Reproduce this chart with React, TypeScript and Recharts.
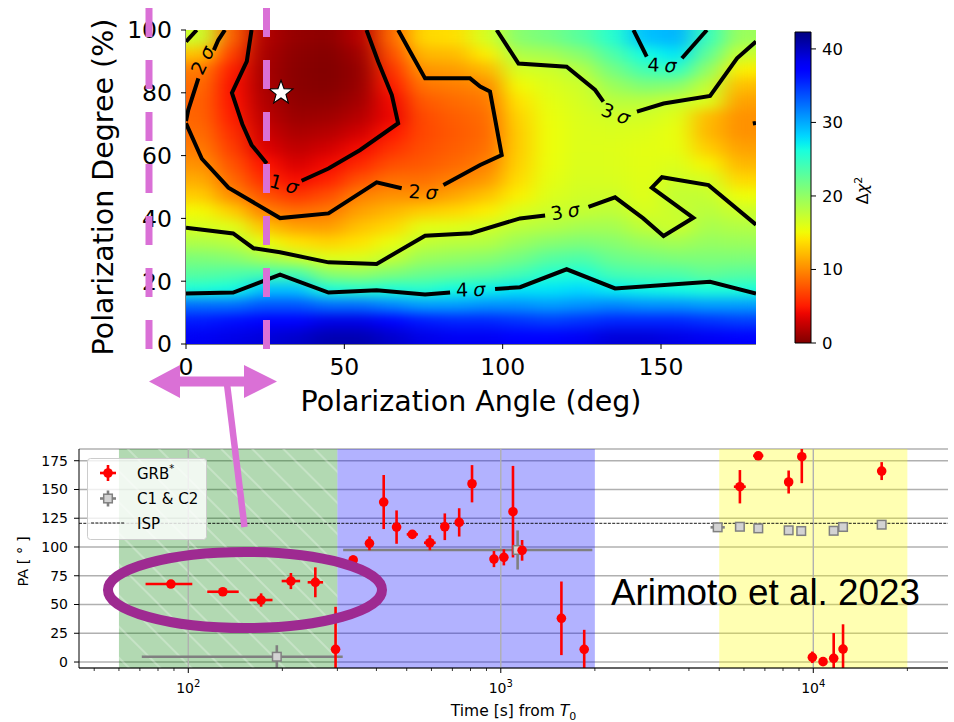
import React from 'react';
import {
  ComposedChart,
  Scatter,
  XAxis,
  YAxis,
  ReferenceArea,
  ReferenceLine,
  ErrorBar,
  CartesianGrid,
  Legend,
} from 'recharts';

const FONT = "'DejaVu Sans', 'Liberation Sans', sans-serif";
const ORCHID = '#da70d6';
const PURPLE = '#9e2a91';

/* ------------------------------------------------------------------ */
/* Δχ² map over polarization angle (deg) × polarization degree (%)     */
/* ------------------------------------------------------------------ */
const angleCenters = [5, 15, 25, 35, 45, 55, 65, 75, 85, 95, 105, 115, 125, 135, 145, 155, 165, 175];
const degreeCenters = [2.5, 7.5, 12.5, 17.5, 22.5, 27.5, 32.5, 37.5, 42.5, 47.5, 52.5, 57.5, 62.5, 67.5, 72.5, 77.5, 82.5, 87.5, 92.5, 97.5];

// one row per polarization degree (bottom → top), one value per angle column
const chi2Rows: number[][] = [
  [38, 38.5, 39, 39.5, 40.5, 40.5, 39.5, 38.5, 38, 38, 37.5, 37.5, 38, 39, 39, 38.5, 38, 37.5],
  [36, 36.5, 37, 37.5, 38.5, 38.5, 37, 36, 35.5, 35.5, 35, 34.5, 35, 35.5, 35.5, 35.5, 35, 34.5],
  [32.5, 32.5, 33.5, 33.5, 32.5, 32.5, 31.5, 30.5, 30.5, 31, 31, 30.5, 31, 31.5, 31, 31, 30.5, 30.5],
  [26, 26.5, 29, 29, 26, 25.5, 26, 25.5, 26.5, 27, 27.5, 27.5, 28, 27.2, 26.8, 26.5, 26, 26],
  [23, 23.5, 24, 24, 20.5, 20, 21, 22, 22.5, 23, 24, 25.5, 26, 24, 23.5, 23.5, 22.5, 23],
  [21, 20.5, 19, 17.5, 16, 16.2, 17.5, 19.5, 20, 20.5, 21.5, 23, 23.5, 22, 21.5, 21, 21, 21],
  [18.5, 18, 15.5, 14, 13.3, 14, 15.5, 17.5, 18, 18.2, 19.5, 20.5, 21, 20.5, 19.5, 19, 19.8, 19.5],
  [16.5, 16, 12.5, 11, 10.8, 12.5, 13.5, 15.8, 16, 16.7, 17.8, 18.3, 19, 19, 17.6, 16.9, 18.8, 18.3],
  [15, 13, 9.6, 8.7, 9.2, 11, 12, 13, 13.5, 14.5, 16.2, 16.9, 17.4, 17.8, 16.4, 17.2, 18, 17],
  [13, 10, 7.5, 6.2, 7.3, 9.6, 10.3, 10.2, 11.3, 12.5, 14.6, 16.2, 16.8, 16.9, 16, 17.5, 17.4, 15.2],
  [11.5, 8.5, 5.8, 4.3, 5.3, 7.5, 8.8, 8.8, 9.6, 10.6, 13.7, 15.7, 16.5, 16.4, 15.9, 16.9, 16.5, 13.5],
  [10.3, 7.5, 4.6, 3.2, 4.2, 5.6, 7.3, 7.8, 8.5, 9.5, 13.2, 15.4, 16.3, 16.2, 15.8, 16.2, 14.8, 12],
  [9.3, 6.5, 3.5, 2.3, 3.0, 4.3, 6, 7.3, 8, 8.8, 13, 15.3, 16.2, 16.1, 15.8, 15.6, 13, 11],
  [8.7, 5.8, 2.8, 1.6, 2.0, 3.0, 4.8, 7, 7.8, 8.5, 13, 15.3, 16.2, 16.3, 16.1, 15.5, 12, 10.3],
  [8.3, 5.0, 2.2, 1.0, 1.2, 2.0, 4.0, 7.1, 8, 8.7, 13.3, 15.4, 16.3, 16.8, 16.7, 16, 12.2, 10.3],
  [8.2, 4.6, 1.8, 0.6, 0.6, 1.3, 4.2, 7.8, 8.6, 9.2, 14, 15.7, 16.6, 18, 18, 17.2, 16.2, 11],
  [8.6, 4.5, 1.5, 0.4, 0.2, 0.9, 5, 9, 9.4, 10, 15, 16.2, 17, 19.5, 21, 20.5, 17.5, 12.3],
  [9.3, 5, 1.4, 0.4, 0.1, 0.8, 6, 10.5, 10.8, 12, 16.5, 16.9, 18.3, 21.5, 24, 25, 20, 14.5],
  [12.5, 6.5, 1.5, 0.5, 0.2, 1.2, 7.3, 12, 12.2, 14.5, 18.5, 19, 20.5, 23.5, 26.5, 27.5, 22.5, 17.2],
  [17, 8, 1.8, 0.8, 0.5, 2.0, 8.5, 13.5, 13.8, 16.5, 20.5, 21.5, 23, 25.5, 29, 29.5, 24.5, 19.5],
];

const CB_MAX = 42.3;
const cbTicks = [0, 10, 20, 30, 40];
const angleTicks = [0, 50, 100, 150];
const degreeTicks = [0, 20, 40, 60, 80, 100];

// confidence contours as [angle, degree] vertices, broken where the level tag sits
const contour1a = [[20.7, 100], [19.2, 90], [14.5, 80], [17.8, 70], [20.7, 63.4], [25.5, 57.5]];
const contour1b = [[36.5, 52], [45, 55.9], [55, 61.8], [67, 70.3], [65, 79.3], [60.7, 89.9], [57, 100]];
const contour2a = [[12.3, 100], [10.2, 96.8], [8.8, 93.6]];
const contour2b = [[3.9, 84.6], [0.7, 74.5], [0, 71]];
const contour2c = [[0, 70.3], [5, 59], [13.4, 49.8], [29.7, 40.1], [45, 41.6], [60.2, 51.5], [68.1, 49.6]];
const contour2d = [[81.3, 50.6], [92.9, 57], [99.7, 60.2], [96, 80.4], [92.9, 82], [89.7, 84.6], [75.5, 84.6], [70.8, 93.1], [67, 100]];
const contour3corner = [[0, 96.3], [3.4, 100]];
const contour3a = [[0, 37], [14.9, 35.2], [21.3, 30.5], [29.7, 29.2], [45, 26], [60.2, 25.5], [75.5, 34.5], [90, 35.3], [105.5, 40], [113.4, 40.9]];
const contour3b = [[127.1, 43.7], [135.5, 46.7], [144.4, 40], [150.8, 34.4], [160.2, 40.2], [147.1, 49.8], [150.3, 53.1], [165, 50.6], [180, 38]];
const contour3c = [[98.1, 100], [105, 89.3], [120.2, 88.3], [129.2, 80.9], [131.8, 77.2]];
const contour3d = [[142.4, 74], [150.8, 76.6], [165.5, 79], [174, 91], [180, 96.3]];
const contour4a = [[141.3, 100], [145.5, 91.5]];
const contour4b = [[156.6, 91], [164.5, 100]];
const contour4c = [[0, 16.1], [14.9, 16.4], [29.7, 22.1], [45, 16.4], [60.2, 17.1], [75.5, 15.8], [83.4, 16.4]];
const contour4d = [[97.6, 17.5], [105.5, 18.1], [120.2, 23.8], [135.5, 17.7], [165.5, 19.8], [180, 16.1]];
const contourEdge = [[179, 70.2], [180, 70.4]];

const contourSegments = [
  contour1a, contour1b, contour2a, contour2b, contour2c, contour2d, contour3corner,
  contour3a, contour3b, contour3c, contour3d, contour4a, contour4b, contour4c, contour4d, contourEdge,
];

const tagAngles = [5.2, 31, 74.9, 119.7, 135.7, 150.3, 89.9];
const tagDegrees = [90.4, 51, 48.5, 42.3, 73.4, 88.9, 17.4];
const tagLevels = ['2', '1', '2', '3', '3', '4', '4'];
const tagRotations = [-64, 15, 3, -10, 20, 2, -2];

const bestAngle = 30;
const bestDegree = 80;

/* ------------------------------------------------------------------ */
/* PA history                                                          */
/* ------------------------------------------------------------------ */
const grbTime = [88, 129, 171, 213, 255, 296, 337, 380, 422, 464, 521, 593, 662, 736, 809, 951, 1023, 1094, 1170, 1563, 1849, 5823, 6668, 8340, 9188, 9931, 10744, 11620, 12450, 16550];
const grbTStart = [73, 115, 157, 199, 241, 291, 330, 368, 414, 455, 500, 568, 650, 720, 800, 940, 1010, 1085, 1155, 1530, 1840, 5570, 6420, 8100, 8950, 9700, 10500, 11400, 12200, 16100];
const grbTEnd = [103, 145, 186, 228, 270, 301, 344, 392, 430, 473, 543, 619, 675, 752, 818, 962, 1036, 1103, 1185, 1596, 1858, 6080, 6920, 8600, 9430, 10170, 11000, 11850, 12700, 17000];
const grbPA = [67.8, 61.1, 53.9, 70.4, 69.3, 11, 88.7, 103.2, 139.1, 117.3, 111, 103.7, 117.6, 121.4, 155, 89.5, 91, 130.7, 97.1, 38, 11, 152.4, 179.3, 156.5, 178.5, 4.1, 0.3, 3.2, 11.3, 166];
const grbPAErr = [2, 2, 5.8, 7, 13, 37, 4, 6, 23.5, 14.5, 3, 6.5, 11.6, 12.3, 16.2, 7, 7, 39.8, 9, 32, 17, 14.5, 3, 10, 23, 5, 2, 22, 21.5, 7.8];

const refTime = [192, 1132, 4943, 5823, 6668, 8340, 9150, 11620, 12450, 16550];
const refTStart = [71, 313, 4690, 5650, 6470, 8150, 9000, 11400, 12250, 16300];
const refTEnd = [312, 1963, 5210, 6000, 6880, 8550, 9300, 11850, 12650, 16800];
const refPA = [4.6, 97.4, 117.1, 117.6, 116.2, 114.5, 113.9, 114.1, 117.4, 119.4];
const refPAErr = [10, 17, 1.5, 1.5, 1.5, 1.5, 1.5, 1.5, 1.5, 1.5];

const ispAngle = 120.6;

const bandStart = [60, 300, 5000];
const bandEnd = [300, 2000, 20000];
const bandColor = ['#008000', '#0000ff', '#ffff00'];

const paTicks = [0, 25, 50, 75, 100, 125, 150, 175];
const timeMajor = [100, 1000, 10000];
const timeMinor = [50, 60, 70, 80, 90, 200, 300, 400, 500, 600, 700, 800, 900, 2000, 3000, 4000, 5000, 6000, 7000, 8000, 9000, 20000];

const legendLabels = ['GRB', 'C1 & C2', 'ISP'];

/* ------------------------------------------------------------------ */
/* colour map (jet, reversed)                                          */
/* ------------------------------------------------------------------ */
const JET_R: [number, number][] = [[0, 0], [0.35, 0], [0.66, 1], [0.89, 1], [1, 0.5]];
const JET_G: [number, number][] = [[0, 0], [0.125, 0], [0.375, 1], [0.64, 1], [0.91, 0], [1, 0]];
const JET_B: [number, number][] = [[0, 0.5], [0.11, 1], [0.34, 1], [0.65, 0], [1, 0]];

function piecewise(tab: [number, number][], t: number) {
  for (let i = 1; i < tab.length; i++) {
    if (t <= tab[i][0]) {
      const [t0, v0] = tab[i - 1];
      const [t1, v1] = tab[i];
      return v0 + ((v1 - v0) * (t - t0)) / (t1 - t0);
    }
  }
  return tab[tab.length - 1][1];
}

function chi2Color(v: number) {
  const t = 1 - Math.min(1, Math.max(0, v / CB_MAX));
  const r = Math.round(255 * piecewise(JET_R, t));
  const g = Math.round(255 * piecewise(JET_G, t));
  const b = Math.round(255 * piecewise(JET_B, t));
  return `rgb(${r},${g},${b})`;
}

/* ------------------------------------------------------------------ */
/* derived tables                                                      */
/* ------------------------------------------------------------------ */
const heatCells = degreeCenters.flatMap((d, i) => angleCenters.map((a, j) => ({ a, d, v: chi2Rows[i][j] })));
const contourData = contourSegments.map((seg) => seg.map(([a, d]) => ({ a, d })));
const tagData = tagAngles.map((a, i) => ({ a, d: tagDegrees[i], n: tagLevels[i], rot: tagRotations[i] }));
const bestFit = [{ a: bestAngle, d: bestDegree }];
const rampStops = Array.from({ length: 43 }, (_, i) => i / 42);
const cbAnchors = cbTicks.map((y) => ({ x: 0.5, y }));

const grbData = grbTime.map((t, i) => ({
  t,
  pa: grbPA[i],
  tErr: [t - grbTStart[i], grbTEnd[i] - t],
  paErr: grbPAErr[i],
}));
const refData = refTime.map((t, i) => ({
  t,
  pa: refPA[i],
  tErr: [t - refTStart[i], refTEnd[i] - t],
  paErr: refPAErr[i],
}));
const timeTicks = [...timeMinor, ...timeMajor].sort((x, y) => x - y);

/* map panel plot box */
const MAP_PLOT_W = 570;
const MAP_PLOT_H = 314;
const CELL_W = MAP_PLOT_W / angleCenters.length;
const CELL_H = MAP_PLOT_H / degreeCenters.length;

/* PA panel plot box (chart coordinates) */
const PHASE_MARGIN = { top: 19, right: 6, bottom: 24, left: 34 };
const PHASE_Y_AXIS_W = 45;
const PHASE_X_AXIS_H = 30;
const PHASE_W = 954;
const PHASE_H = 292;
const PHASE_BOX = {
  x: PHASE_MARGIN.left + PHASE_Y_AXIS_W,
  y: PHASE_MARGIN.top,
  w: PHASE_W - PHASE_MARGIN.left - PHASE_Y_AXIS_W - PHASE_MARGIN.right,
  h: PHASE_H - PHASE_MARGIN.top - PHASE_MARGIN.bottom - PHASE_X_AXIS_H,
};

/* ------------------------------------------------------------------ */
/* shapes                                                              */
/* ------------------------------------------------------------------ */
const NoMark = () => <g />;

const HeatCell = (props: any) => {
  const { cx, cy } = props;
  const v = props.payload ? props.payload.v : props.v;
  return (
    <rect
      x={cx - CELL_W / 2 - 0.6}
      y={cy - CELL_H / 2 - 0.6}
      width={CELL_W + 1.2}
      height={CELL_H + 1.2}
      fill={chi2Color(v)}
    />
  );
};

const ContourTag = (props: any) => {
  const { cx, cy } = props;
  const p = props.payload || props;
  return (
    <text
      x={cx}
      y={cy}
      transform={`rotate(${p.rot} ${cx} ${cy})`}
      textAnchor="middle"
      dominantBaseline="central"
      fontSize={19}
      fontFamily={FONT}
      fill="#000"
    >
      {p.n}
      <tspan fontStyle="italic" dx={5}>σ</tspan>
    </text>
  );
};

const StarMark = (props: any) => {
  const { cx, cy } = props;
  const pts: string[] = [];
  for (let k = 0; k < 10; k++) {
    const r = k % 2 === 0 ? 12.5 : 5.2;
    const ang = -Math.PI / 2 + (k * Math.PI) / 5;
    pts.push(`${cx + r * Math.cos(ang)},${cy + r * Math.sin(ang)}`);
  }
  return <polygon points={pts.join(' ')} fill="#fff" stroke="#000" strokeWidth={1.1} />;
};

const GrbDot = (props: any) => <circle cx={props.cx} cy={props.cy} r={4.8} fill="#ff0000" />;
const RefSquare = (props: any) => (
  <rect x={props.cx - 4.3} y={props.cy - 4.3} width={8.6} height={8.6} fill="#d3d3d3" stroke="#808080" strokeWidth={1.5} />
);

/* ------------------------------------------------------------------ */
/* axis titles                                                         */
/* ------------------------------------------------------------------ */
const MapXTitle = (props: any) => {
  const vb = props.viewBox || { x: 186, y: 344, width: 570 };
  return (
    <text x={vb.x + vb.width / 2} y={vb.y + 67} textAnchor="middle" fontSize={28.5} fontFamily={FONT} fill="#000">
      Polarization Angle (deg)
    </text>
  );
};

const MapYTitle = (props: any) => {
  const vb = props.viewBox || { x: 126, y: 30, width: 60, height: 314 };
  const x = vb.x - 13.5;
  const y = vb.y + vb.height / 2;
  return (
    <text x={x} y={y} transform={`rotate(-90 ${x} ${y})`} textAnchor="middle" fontSize={28.5} fontFamily={FONT} fill="#000">
      Polarization Degree (%)
    </text>
  );
};

const CbTitle = (props: any) => {
  const vb = props.viewBox || { x: 31, y: 32, width: 45, height: 311 };
  const x = vb.x + 57;
  const y = vb.y + vb.height / 2 + 3;
  return (
    <text x={x} y={y} transform={`rotate(-90 ${x} ${y})`} textAnchor="middle" fontSize={16} fontFamily={FONT} fill="#000">
      Δ<tspan fontStyle="italic">χ</tspan>
      <tspan dy={-6} fontSize={11}>2</tspan>
    </text>
  );
};

const TimeTitle = (props: any) => {
  const vb = props.viewBox || { x: 79, y: 238, width: 869 };
  return (
    <text x={vb.x + vb.width / 2} y={vb.y + 48} textAnchor="middle" fontSize={15.5} fontFamily={FONT} fill="#000">
      Time [s] from <tspan fontStyle="italic">T</tspan>
      <tspan dy={3.5} fontSize={11}>0</tspan>
    </text>
  );
};

const PATitle = (props: any) => {
  const vb = props.viewBox || { x: 34, y: 19, width: 45, height: 219 };
  const x = vb.x - 6.5;
  const y = vb.y + vb.height / 2 + 3;
  return (
    <text x={x} y={y} transform={`rotate(-90 ${x} ${y})`} textAnchor="middle" fontSize={14.5} fontFamily={FONT} fill="#000">
      PA [ ° ]
    </text>
  );
};

const LogTick = (props: any) => {
  const { x, y, payload } = props;
  const v = payload.value;
  const major = timeMajor.includes(v);
  return (
    <g>
      <line x1={x} x2={x} y1={y} y2={y + (major ? 5 : 3)} stroke="#000" strokeWidth={major ? 1 : 0.8} />
      {major && (
        <text x={x} y={y + 25} textAnchor="middle" fontSize={14} fontFamily={FONT} fill="#000">
          10
          <tspan dy={-6} fontSize={10}>
            {Math.round(Math.log10(v))}
          </tspan>
        </text>
      )}
    </g>
  );
};

/* ------------------------------------------------------------------ */
/* legend of the PA panel                                              */
/* ------------------------------------------------------------------ */
const PhaseLegend = () => {
  const rows = [15, 40.5, 65];
  return (
    <svg width={121} height={83} style={{ display: 'block' }}>
      <rect x={0.5} y={0.5} width={119} height={81} rx={3} fill="#ffffff" fillOpacity={0.8} stroke="#cccccc" />
      {/* GRB */}
      <line x1={13} x2={29} y1={rows[0]} y2={rows[0]} stroke="#ff0000" strokeWidth={2.6} />
      <line x1={21} x2={21} y1={rows[0] - 8} y2={rows[0] + 8} stroke="#ff0000" strokeWidth={2.6} />
      <circle cx={21} cy={rows[0]} r={4.8} fill="#ff0000" />
      <text x={50} y={rows[0] + 5.5} fontSize={15} fontFamily={FONT} fill="#000">
        {legendLabels[0]}
        <tspan dy={-7} fontSize={10}>*</tspan>
      </text>
      {/* C1 & C2 */}
      <line x1={13} x2={29} y1={rows[1]} y2={rows[1]} stroke="#808080" strokeWidth={2.6} />
      <line x1={21} x2={21} y1={rows[1] - 8} y2={rows[1] + 8} stroke="#808080" strokeWidth={2.6} />
      <rect x={16.7} y={rows[1] - 4.3} width={8.6} height={8.6} fill="#d3d3d3" stroke="#808080" strokeWidth={1.5} />
      <text x={50} y={rows[1] + 5.5} fontSize={15} fontFamily={FONT} fill="#000">
        {legendLabels[1]}
      </text>
      {/* ISP */}
      <line x1={4} x2={38} y1={rows[2]} y2={rows[2]} stroke="#000" strokeWidth={0.9} strokeDasharray="3 1.3" />
      <text x={50} y={rows[2] + 5.5} fontSize={15} fontFamily={FONT} fill="#000">
        {legendLabels[2]}
      </text>
    </svg>
  );
};

/* ------------------------------------------------------------------ */
/* panels                                                              */
/* ------------------------------------------------------------------ */
function SharedDefs() {
  return (
    <svg width={0} height={0} style={{ position: 'absolute', left: 0, top: 0 }} aria-hidden="true">
      <defs>
        <filter id="heatSmooth" x="-5%" y="-5%" width="110%" height="110%" colorInterpolationFilters="sRGB">
          <feGaussianBlur stdDeviation="11 6" />
          <feComponentTransfer>
            <feFuncA type="linear" slope={30} intercept={0} />
          </feComponentTransfer>
        </filter>
        <linearGradient id="chi2Ramp" x1="0" y1="1" x2="0" y2="0">
          {rampStops.map((s) => (
            <stop key={s} offset={s} stopColor={chi2Color(s * CB_MAX)} />
          ))}
        </linearGradient>
        <pattern id="whiteHatch" width={22} height={22} patternUnits="userSpaceOnUse" patternTransform="rotate(-45)">
          <line x1={11} y1={0} x2={11} y2={22} stroke="#ffffff" strokeOpacity={0.35} strokeWidth={1.5} />
        </pattern>
        <clipPath id="phasePlotClip" clipPathUnits="userSpaceOnUse">
          <rect x={PHASE_BOX.x} y={PHASE_BOX.y} width={PHASE_BOX.w} height={PHASE_BOX.h} />
        </clipPath>
      </defs>
    </svg>
  );
}

const mapTick = { fill: '#000', fontSize: 23.5, fontFamily: FONT };

function MapPanel() {
  return (
    <ComposedChart width={954} height={420} margin={{ top: 30, right: 198, bottom: 36, left: 126 }}>
      <XAxis
        type="number"
        dataKey="a"
        domain={[0, 180]}
        ticks={angleTicks}
        interval={0}
        allowDataOverflow
        height={40}
        tick={mapTick}
        tickSize={5}
        tickMargin={9}
        tickLine={{ stroke: '#000' }}
        axisLine={{ stroke: '#000' }}
        label={<MapXTitle />}
      />
      <YAxis
        type="number"
        dataKey="d"
        domain={[0, 100]}
        ticks={degreeTicks}
        interval={0}
        allowDataOverflow
        width={60}
        tick={mapTick}
        tickSize={5}
        tickMargin={9}
        tickLine={{ stroke: '#000' }}
        axisLine={{ stroke: '#000' }}
        label={<MapYTitle />}
      />
      <Scatter data={heatCells} shape={HeatCell} className="heat-layer" isAnimationActive={false} />
      {contourData.map((seg, i) => (
        <Scatter
          key={`c${i}`}
          data={seg}
          shape={NoMark}
          line={{ stroke: '#000', strokeWidth: 4 }}
          isAnimationActive={false}
        />
      ))}
      <Scatter data={tagData} shape={ContourTag} isAnimationActive={false} />
      <Scatter data={bestFit} shape={StarMark} isAnimationActive={false} />
      <XAxis xAxisId="frameTop" orientation="top" type="number" domain={[0, 180]} height={0} tick={false} tickLine={false} axisLine={{ stroke: '#000' }} />
      <YAxis yAxisId="frameRight" orientation="right" type="number" domain={[0, 100]} width={0} tick={false} tickLine={false} axisLine={{ stroke: '#000' }} />
    </ComposedChart>
  );
}

function ColorBar() {
  return (
    <ComposedChart width={120} height={420} margin={{ top: 32, right: 44, bottom: 77, left: 15 }}>
      <XAxis type="number" dataKey="x" domain={[0, 1]} hide />
      <YAxis
        type="number"
        dataKey="y"
        orientation="right"
        domain={[0, CB_MAX]}
        ticks={cbTicks}
        interval={0}
        width={45}
        tickSize={5}
        tickMargin={6}
        axisLine={false}
        tickLine={{ stroke: '#000' }}
        tick={{ fill: '#000', fontSize: 16.5, fontFamily: FONT }}
        label={<CbTitle />}
      />
      <ReferenceArea x1={0} x2={1} y1={0} y2={CB_MAX} fill="url(#chi2Ramp)" fillOpacity={1} stroke="#000" strokeWidth={1} ifOverflow="visible" />
      <Scatter data={cbAnchors} shape={NoMark} isAnimationActive={false} />
    </ComposedChart>
  );
}

function PhasePanel() {
  return (
    <ComposedChart width={PHASE_W} height={PHASE_H} margin={PHASE_MARGIN}>
      <CartesianGrid vertical={false} stroke="#b0b0b0" strokeWidth={1.4} />
      {bandStart.map((from, i) => (
        <ReferenceArea key={`band${i}`} x1={from} x2={bandEnd[i]} fill={bandColor[i]} fillOpacity={0.3} stroke="none" />
      ))}
      <ReferenceArea x1={bandStart[0]} x2={bandEnd[0]} fill="url(#whiteHatch)" fillOpacity={1} stroke="none" />
      {timeMajor.map((t) => (
        <ReferenceLine key={`g${t}`} x={t} stroke="#b0b0b0" strokeWidth={1.4} />
      ))}
      <ReferenceLine y={ispAngle} stroke="#000" strokeWidth={0.9} strokeDasharray="3 1.3" />
      <XAxis
        type="number"
        dataKey="t"
        scale="log"
        domain={[44.7, 26980]}
        allowDataOverflow
        ticks={timeTicks}
        interval={0}
        tick={<LogTick />}
        tickLine={false}
        tickSize={0}
        tickMargin={0}
        height={PHASE_X_AXIS_H}
        axisLine={{ stroke: '#000' }}
        label={<TimeTitle />}
      />
      <YAxis
        type="number"
        dataKey="pa"
        domain={[-5.2, 185.2]}
        allowDataOverflow
        ticks={paTicks}
        interval={0}
        width={PHASE_Y_AXIS_W}
        tickSize={5}
        tickMargin={6}
        tickLine={{ stroke: '#000' }}
        axisLine={{ stroke: '#000' }}
        tick={{ fill: '#000', fontSize: 14, fontFamily: FONT }}
        label={<PATitle />}
      />
      <Scatter data={refData} shape={RefSquare} isAnimationActive={false}>
        <ErrorBar dataKey="tErr" direction="x" width={0} stroke="#808080" strokeWidth={2.6} />
        <ErrorBar dataKey="paErr" direction="y" width={0} stroke="#808080" strokeWidth={2.6} />
      </Scatter>
      <Scatter data={grbData} shape={GrbDot} isAnimationActive={false}>
        <ErrorBar dataKey="tErr" direction="x" width={0} stroke="#ff0000" strokeWidth={2.6} />
        <ErrorBar dataKey="paErr" direction="y" width={0} stroke="#ff0000" strokeWidth={2.6} />
      </Scatter>
      <XAxis xAxisId="frameTop" orientation="top" type="number" scale="log" domain={[44.7, 26980]} height={0} tick={false} tickLine={false} axisLine={{ stroke: '#000' }} />
      <YAxis yAxisId="frameRight" orientation="right" type="number" domain={[-5.2, 185.2]} width={0} tick={false} tickLine={false} axisLine={{ stroke: '#000' }} />
      <Legend
        layout="horizontal"
        verticalAlign="middle"
        align="center"
        content={() => <PhaseLegend />}
        wrapperStyle={{ left: 87, top: 28, width: 121, height: 83 }}
      />
    </ComposedChart>
  );
}

function Annotations() {
  return (
    <svg width={954} height={722} style={{ position: 'absolute', left: 0, top: 0, pointerEvents: 'none' }}>
      <line x1={149} y1={8} x2={149} y2={350} stroke={ORCHID} strokeWidth={7} strokeDasharray="29 23" />
      <line x1={266.5} y1={8} x2={266.5} y2={350} stroke={ORCHID} strokeWidth={7} strokeDasharray="29 23" />
      <polygon
        points="149,381.5 180,365 180,376.5 244,376.5 244,365 277,381.5 244,398 244,386.5 180,386.5 180,398"
        fill={ORCHID}
      />
      <line x1={227} y1={384} x2={244.5} y2={527} stroke={ORCHID} strokeWidth={6.5} />
      <ellipse cx={245} cy={590} rx={137} ry={38} fill="none" stroke={PURPLE} strokeWidth={10} />
      <text x={611} y={605} fontSize={36.8} fontFamily="'Liberation Sans', Arial, sans-serif" fill="#000">
        Arimoto et al. 2023
      </text>
    </svg>
  );
}

export default function App() {
  return (
    <div style={{ position: 'absolute', left: 0, top: 0, width: 954, height: 722, background: '#fff', overflow: 'hidden' }}>
      <style>{`
        .heat-layer { filter: url(#heatSmooth); }
        .phase-panel g[class*="recharts-errorBar"] { clip-path: url(#phasePlotClip); }
      `}</style>
      <SharedDefs />
      <div style={{ position: 'absolute', left: 0, top: 0 }}>
        <MapPanel />
      </div>
      <div style={{ position: 'absolute', left: 780, top: 0 }}>
        <ColorBar />
      </div>
      <div className="phase-panel" style={{ position: 'absolute', left: 0, top: 430 }}>
        <PhasePanel />
      </div>
      <Annotations />
    </div>
  );
}
